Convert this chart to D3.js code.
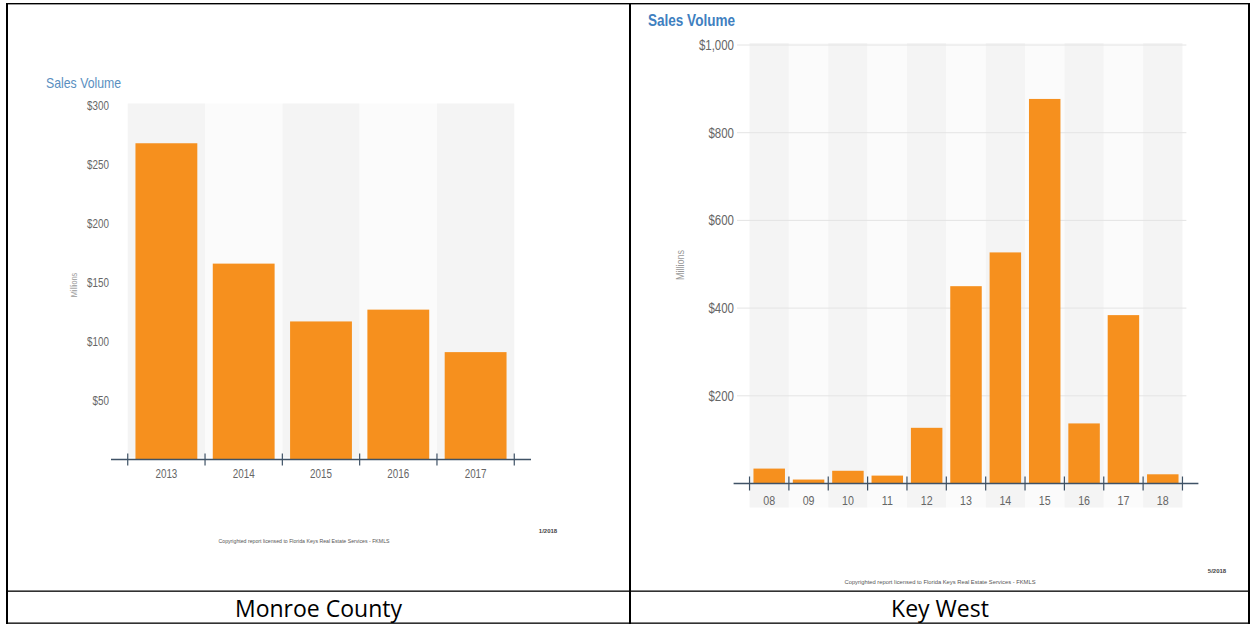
<!DOCTYPE html>
<html>
<head>
<meta charset="utf-8">
<script src="https://cdn.jsdelivr.net/npm/d3@7"></script>
<style>
  html, body { margin: 0; padding: 0; background: #fff; }
  svg { display: block; }
  .narrow, .narrow text { font-family: "Liberation Sans", Arial, sans-serif; }
</style>
</head>
<body>
<svg id="chart" width="1251" height="625"></svg>
<script>
// ---- Data ----
const monroeYears = ["2013", "2014", "2015", "2016", "2017"];
const monroeVolume = [268, 166, 117, 127, 91];
const monroeTicks = [50, 100, 150, 200, 250, 300];

const keyWestYears = ["08", "09", "10", "11", "12", "13", "14", "15", "16", "17", "18"];
const keyWestVolume = [34, 9, 29, 18, 127, 450, 527, 877, 137, 384, 21];
const keyWestTicks = [200, 400, 600, 800, 1000];

const cellLabels = ["Monroe County", "Key West"];
const chartTitle = "Sales Volume";
const axisTitle = "Millions";
const copyrightText = "Copyrighted report licensed to Florida Keys Real Estate Services - FKMLS";
const dateLabels = ["1/2018", "5/2018"];

const svg = d3.select("#chart");
const fmt = d3.format("$,");
const BAR = "#f6901e";
const AXIS = "#3f5266";
const NARROW = 0.82;

function condense(sel) {
  sel.each(function () {
    const len = this.getComputedTextLength();
    d3.select(this).attr("textLength", len * NARROW).attr("lengthAdjust", "spacingAndGlyphs");
  });
}

function drawChart(cfg) {
  const g = svg.append("g");
  const x = d3.scaleBand().domain(cfg.cats).range(cfg.xRange).padding(0.2);
  const y = d3.scaleLinear().domain(cfg.yDomain).range(cfg.yRange);
  const step = x.step();
  const half = step * x.paddingInner() / 2;

  // plot background bands
  g.selectAll("rect.band").data(cfg.cats).enter().append("rect")
    .attr("x", d => x(d) - half)
    .attr("y", cfg.yRange[1] - 2)
    .attr("width", step)
    .attr("height", cfg.yRange[0] - cfg.yRange[1] + cfg.bgBelow)
    .attr("fill", (d, i) => i % 2 === 0 ? "#f4f4f4" : "#fbfbfb");

  // gridlines
  if (cfg.grid) {
    g.selectAll("line.grid").data(cfg.ticks).enter().append("line")
      .attr("x1", cfg.axisX).attr("x2", cfg.xRange[1])
      .attr("y1", d => y(d)).attr("y2", d => y(d))
      .attr("stroke", "#e4e4e4").attr("stroke-width", 1);
  }

  // bars
  g.selectAll("rect.bar").data(cfg.values).enter().append("rect")
    .attr("x", (d, i) => x(cfg.cats[i]))
    .attr("y", d => y(d))
    .attr("width", x.bandwidth())
    .attr("height", d => y(0) - y(d))
    .attr("fill", BAR);

  // y axis labels
  const ya = g.append("g").attr("class", "narrow")
    .attr("transform", `translate(${cfg.axisX},0)`)
    .call(d3.axisLeft(y).tickValues(cfg.ticks).tickFormat(fmt).tickSize(0).tickPadding(3));
  ya.attr("font-family", null);
  ya.select(".domain").remove();
  ya.selectAll("text").attr("fill", "#666").style("font-size", cfg.yFont + "px").call(condense);

  // x axis line
  g.append("line")
    .attr("x1", cfg.xRange[0] - cfg.axisExt).attr("x2", cfg.xRange[1] + cfg.axisExt)
    .attr("y1", y(0)).attr("y2", y(0))
    .attr("stroke", AXIS).attr("stroke-width", 1.3);
  // boundary ticks
  const bounds = cfg.cats.map(d => x(d) - half).concat([x(cfg.cats[cfg.cats.length - 1]) + x.bandwidth() + half]);
  g.selectAll("line.tk").data(bounds).enter().append("line")
    .attr("x1", d => d).attr("x2", d => d)
    .attr("y1", y(0) - cfg.tick).attr("y2", y(0) + cfg.tick)
    .attr("stroke", AXIS).attr("stroke-width", 1.2);

  // x labels
  const xa = g.append("g").attr("class", "narrow")
    .attr("transform", `translate(0,${y(0)})`)
    .call(d3.axisBottom(x).tickSize(0).tickPadding(cfg.xPad));
  xa.attr("font-family", null);
  xa.select(".domain").remove();
  xa.selectAll("text").attr("fill", "#666").style("font-size", cfg.xFont + "px").call(condense);

  // title
  g.append("text").attr("class", "narrow")
    .attr("x", cfg.titleX).attr("y", cfg.titleY)
    .attr("fill", cfg.titleColor)
    .style("font-size", cfg.titleSize + "px")
    .style("font-weight", cfg.titleWeight)
    .text(chartTitle).call(condense);

  // Millions
  g.append("text").attr("class", "narrow")
    .attr("transform", `translate(${cfg.milX},${cfg.milY}) rotate(-90)`)
    .attr("text-anchor", "middle")
    .attr("fill", "#9a9a9a")
    .style("font-size", cfg.milSize + "px")
    .text(axisTitle).call(condense);

  // copyright
  g.append("text")
    .attr("x", cfg.copyX).attr("y", cfg.copyY)
    .attr("text-anchor", "middle")
    .attr("fill", "#555")
    .style("font-family", "Liberation Sans, sans-serif")
    .style("font-size", cfg.copySize + "px")
    .text(copyrightText);

  // date
  g.append("text")
    .attr("x", cfg.dateX).attr("y", cfg.dateY)
    .attr("text-anchor", "middle")
    .attr("fill", "#444")
    .style("font-family", "Liberation Sans, sans-serif")
    .style("font-weight", "bold")
    .style("font-size", "6px")
    .text(cfg.date);
}

drawChart({
  cats: monroeYears, values: monroeVolume, ticks: monroeTicks,
  xRange: [120, 522], yDomain: [0, 300], yRange: [459.5, 105.5],
  axisX: 112, axisExt: 9, tick: 6, bgBelow: 0, grid: false,
  yFont: 12, xFont: 12, xPad: 10,
  titleX: 46, titleY: 88, titleColor: "#5a8fbf", titleSize: 15, titleWeight: "normal",
  milX: 77, milY: 285, milSize: 9,
  copyX: 304, copyY: 543, copySize: 5.2,
  dateX: 548, dateY: 533, date: dateLabels[0]
});

drawChart({
  cats: keyWestYears, values: keyWestVolume, ticks: keyWestTicks,
  xRange: [745.6, 1186.4], yDomain: [0, 1000], yRange: [483.5, 45],
  axisX: 737, axisExt: 12, tick: 7, bgBelow: 26, grid: true,
  yFont: 14, xFont: 13, xPad: 12,
  titleX: 648, titleY: 26, titleColor: "#3f80c0", titleSize: 16.5, titleWeight: "bold",
  milX: 684, milY: 265, milSize: 11,
  copyX: 940, copyY: 584, copySize: 5.8,
  dateX: 1217, dateY: 573, date: dateLabels[1]
});

// ---- table frame ----
const frame = svg.append("g").attr("fill", "#000");
frame.append("rect").attr("x", 6).attr("y", 3).attr("width", 1244).attr("height", 1.4);
frame.append("rect").attr("x", 6).attr("y", 3).attr("width", 2).attr("height", 621);
frame.append("rect").attr("x", 629).attr("y", 3).attr("width", 2).attr("height", 621);
frame.append("rect").attr("x", 1248).attr("y", 3).attr("width", 2).attr("height", 621);
frame.append("rect").attr("x", 6).attr("y", 590.5).attr("width", 1244).attr("height", 1.3);
frame.append("rect").attr("x", 6).attr("y", 622.5).attr("width", 1244).attr("height", 1.3);

// cell labels
svg.selectAll("text.cell").data(cellLabels).enter().append("text")
  .attr("class", "cell")
  .attr("x", (d, i) => i === 0 ? 318.5 : 940)
  .attr("y", 617)
  .attr("text-anchor", "middle")
  .attr("fill", "#000")
  .style("font-family", "'Open Sans', 'Noto Sans', sans-serif")
  .style("font-size", "23px")
  .text(d => d);
</script>
</body>
</html>
